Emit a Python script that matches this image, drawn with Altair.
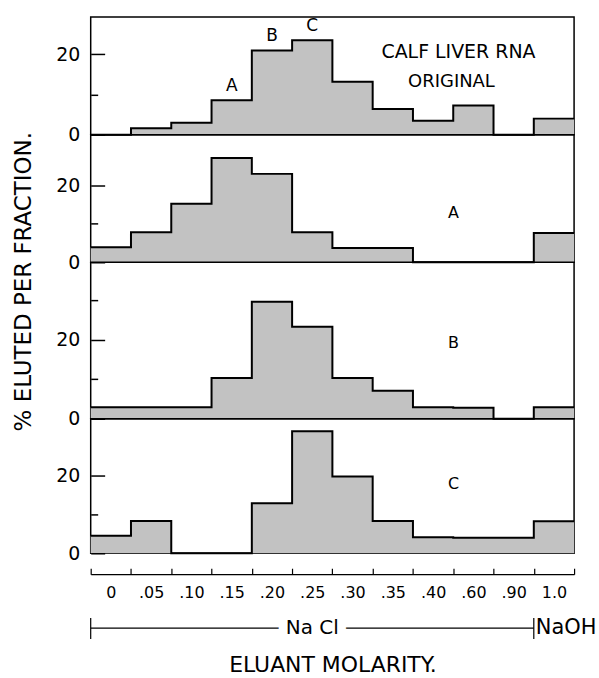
import altair as alt
import pandas as pd

# ---- data ----
fractions = ["0", ".05", ".10", ".15", ".20", ".25", ".30", ".35", ".40", ".60", ".90", "1.0"]
original = [0, 1.6, 3.0, 8.6, 21.0, 23.5, 13.2, 6.4, 3.5, 7.3, 0, 4.0]
fraction_a = [3.9, 7.8, 15.2, 27.1, 23.0, 7.8, 3.7, 3.7, 0, 0, 0, 7.6]
fraction_b = [2.9, 2.9, 2.9, 10.3, 29.6, 23.3, 10.3, 7.1, 2.9, 2.8, 0, 2.9]
fraction_c = [4.5, 8.3, 0, 0, 12.8, 31.3, 19.7, 8.3, 4.1, 4.0, 4.0, 8.2]
peak_labels = ["A", "B", "C"]
peak_fractions = [".15", ".20", ".25"]
solvents = ["Na Cl", "NaOH"]
solvent_first = ["0", "1.0"]
solvent_last = [".90", "1.0"]

FONT = "DejaVu Sans"
FILL = "#c2c2c2"
W = 485
N = len(fractions)


def step_frame(values):
    rows = [{"pos": i, "pct": v} for i, v in enumerate(values)]
    rows.append({"pos": N, "pct": values[-1]})
    return pd.DataFrame(rows)


def xq(field):
    return alt.X(f"{field}:Q", scale=alt.Scale(domain=[0, N], nice=False, zero=False), axis=None)


def label_layer(text, px, py, size=16):
    return alt.Chart(pd.DataFrame({"t": [text]})).mark_text(
        font=FONT, fontSize=size, color="black", baseline="middle", align="center"
    ).encode(text="t:N", x=alt.value(px), y=alt.value(py))


def panel(values, height, ymax, minor, labels, title=None, peaks=None):
    df = step_frame(values)
    yscale = alt.Scale(domain=[0, ymax], nice=False, zero=True)
    major = dict(orient="left", values=[0, 20], offset=-14, tickSize=14, tickWidth=1.5,
                 tickColor="black", domain=False, grid=False, labelPadding=11, labelFont=FONT,
                 labelFontSize=19, labelColor="black", labelFlush=False, zindex=1, title=None)
    if title:
        major.update(title=title, titleX=-81, titleY=147, titleAngle=270, titleAlign="center",
                     titleBaseline="middle", titleFont=FONT, titleFontSize=23,
                     titleFontWeight="normal", titleColor="black")
    minor_axis = alt.Axis(orient="left", values=minor, offset=-7, tickSize=7, tickWidth=1.5,
                          tickColor="black", domain=False, grid=False, labels=False, zindex=1,
                          title=None)
    area = alt.Chart(df).mark_area(interpolate="step-after", color=FILL).encode(
        x=xq("pos"), y=alt.Y("pct:Q", scale=yscale, axis=alt.Axis(**major)))
    line = alt.Chart(df).mark_line(interpolate="step-after", color="black", strokeWidth=2).encode(
        x=xq("pos"), y=alt.Y("pct:Q", scale=yscale, axis=minor_axis))
    layers = [area, line]
    if peaks is not None:
        layers.append(alt.Chart(peaks).mark_text(
            font=FONT, fontSize=17, color="black", baseline="bottom", dy=-5).encode(
            x=xq("pos"), y=alt.Y("pct:Q", scale=yscale, axis=None), text="label:N"))
    for (t, px, py, s) in labels:
        layers.append(label_layer(t, px, py, s))
    return alt.layer(*layers).resolve_axis(y="independent").properties(width=W, height=height)


peaks_df = pd.DataFrame({
    "pos": [fractions.index(f) + 0.5 for f in peak_fractions],
    "pct": [original[fractions.index(f)] for f in peak_fractions],
    "label": peak_labels,
})

p1 = panel(original, 118, 29.3, [10],
           [("CALF LIVER RNA", 369, 35, 19), ("ORIGINAL", 362, 65, 18)], peaks=peaks_df)
p2 = panel(fraction_a, 128, 33.2, [10], [("A", 364, 79, 16)], title="% ELUTED PER FRACTION.")
p3 = panel(fraction_b, 157, 39.6, [10, 30], [("B", 364, 81, 16)])
p4 = panel(fraction_c, 135, 34.5, [10], [("C", 364, 66, 16)])

# ---- x axis strip: ticks on bin edges, labels at bin centres ----
tick_strip = alt.Chart(pd.DataFrame({"fraction": fractions})).mark_rect(opacity=0).encode(
    x=alt.X("fraction:N", sort=fractions,
            scale=alt.Scale(type="band", paddingInner=0, paddingOuter=0),
            axis=alt.Axis(orient="top", offset=-21, tickBand="extent", tickSize=6, tickWidth=1.2,
                          tickColor="black", domainColor="black", domainWidth=1.2,
                          labelPadding=-29, labelBaseline="alphabetic", labelAngle=0,
                          labelOverlap=False, labelFont=FONT, labelFontSize=16,
                          labelColor="black", grid=False, title=None))
).properties(width=W, height=21, view=alt.ViewBackground(strokeOpacity=0))

# ---- solvent strip ----
sol_df = pd.DataFrame({
    "solvent": solvents,
    "start": [fractions.index(f) for f in solvent_first],
    "end": [fractions.index(f) + 1 for f in solvent_last],
})
sol_df["mid"] = (sol_df["start"] + sol_df["end"]) / 2

sol_axis = alt.Axis(orient="bottom", labels=False, ticks=False, domain=False, grid=False,
                    title="ELUANT MOLARITY.", titleFont=FONT, titleFontSize=22,
                    titleFontWeight="normal", titleColor="black", titlePadding=11)


def xs(field):
    return alt.X(f"{field}:Q", scale=alt.Scale(domain=[0, N], nice=False, zero=False),
                 axis=sol_axis)


sbase = alt.Chart(sol_df)
first = alt.datum.solvent == solvents[0]
second = alt.datum.solvent == solvents[1]
sol_line = sbase.transform_filter(first).mark_rule(color="black", strokeWidth=1.2).encode(
    x=xs("start"), x2="end:Q", y=alt.value(54))
sol_ticks = sbase.mark_rule(color="black", strokeWidth=1.2).encode(
    x=xs("start"), y=alt.value(44), y2=alt.value(65))
sol_halo = sbase.transform_filter(first).mark_text(
    font=FONT, fontSize=20, fill="white", stroke="white", strokeWidth=18, baseline="middle").encode(
    x=xs("mid"), y=alt.value(54), text="solvent:N")
sol_text = sbase.transform_filter(first).mark_text(
    font=FONT, fontSize=20, color="black", baseline="middle").encode(
    x=xs("mid"), y=alt.value(54), text="solvent:N")
sol_text2 = sbase.transform_filter(second).mark_text(
    font=FONT, fontSize=21, color="black", baseline="middle", align="left", dx=2).encode(
    x=xs("start"), y=alt.value(54), text="solvent:N")

sol_strip = alt.layer(sol_line, sol_ticks, sol_halo, sol_text, sol_text2).properties(
    width=W, height=70, view=alt.ViewBackground(strokeOpacity=0))

chart = alt.vconcat(p1, p2, p3, p4, tick_strip, sol_strip, spacing=0, bounds="flush").properties(
    padding={"left": 12, "top": 15, "right": 2, "bottom": 0}
).configure(
    font=FONT, view=alt.ViewConfig(stroke="black", strokeWidth=1.5)
)

chart.save("out.html", embed_options={"renderer": "svg", "actions": False})
